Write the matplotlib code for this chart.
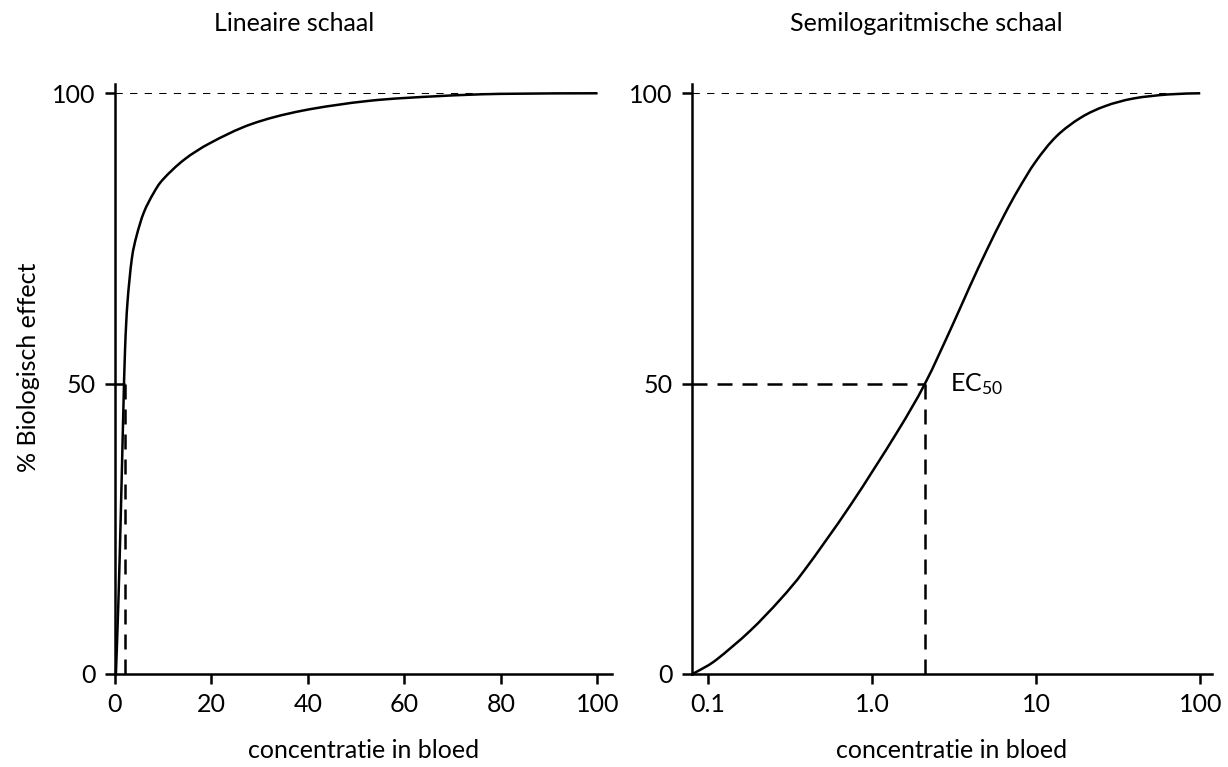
import numpy as np
import matplotlib.pyplot as plt
from matplotlib.path import Path
from matplotlib.patches import PathPatch

plt.rcParams['font.family'] = ['Lato', 'DejaVu Sans']
plt.rcParams['mathtext.default'] = 'regular'

FS = 18

# curve (concentration, % effect)
conc_lin = [0.2, 0.7, 1.2, 1.7, 2.1, 2.6, 3.5, 4.5, 6.0, 8.0, 10, 14.4,
            19.9, 28.3, 38.8, 52.7, 66.8, 80, 100]
effect_lin = [0, 12, 27, 44, 56, 64, 71.5, 75.5, 79.5, 82.8, 85.2, 88.6,
              91.5, 94.7, 97, 98.7, 99.5, 99.9, 100]

# curve
conc_log = [0.080, 0.0894, 0.113, 0.180, 0.275, 0.390, 0.735, 1.41, 2.1,
            3.07, 3.92, 5.0, 6.38, 7.77, 9.91, 13.3, 18.7, 26.4, 39.1, 63.7, 100]
effect_log = [0, 0.7, 2.5, 7.4, 12.8, 18.0, 29.0, 41.5, 50,
              59.9, 66.6, 73.0, 79.0, 83.4, 88.2, 92.6, 95.8, 97.8, 99.1, 99.8, 100]

ec50 = 2.1
max_effect = 100

lin_ticks = [0, 20, 40, 60, 80, 100]
log_ticks = [0.1, 1, 10, 100]
log_labels = ['0.1', '1.0', '10', '100']
y_ticks = [0, 50, 100]


def smooth_curve(xs, ys, logx=False):
    # Catmull-Rom through the read points, drawn as bezier segments
    u = np.log10(xs) if logx else np.asarray(xs, float)
    v = np.asarray(ys, float)
    up = np.concatenate([[u[0]], u, [u[-1]]])
    vp = np.concatenate([[v[0]], v, [v[-1]]])
    verts = [(u[0], v[0])]
    codes = [Path.MOVETO]
    for i in range(len(u) - 1):
        c1 = (up[i + 1] + (up[i + 2] - up[i]) / 6, vp[i + 1] + (vp[i + 2] - vp[i]) / 6)
        c2 = (up[i + 2] - (up[i + 3] - up[i + 1]) / 6, vp[i + 2] - (vp[i + 3] - vp[i + 1]) / 6)
        verts += [c1, c2, (u[i + 1], v[i + 1])]
        codes += [Path.CURVE4] * 3
    verts = np.array(verts)
    if logx:
        verts[:, 0] = 10 ** verts[:, 0]
    return Path(verts, codes)


fig = plt.figure(figsize=(12.28, 7.67), dpi=100)
ax1 = fig.add_axes([0.0936, 0.1213, 0.4047, 0.7692])
ax2 = fig.add_axes([0.5635, 0.1213, 0.4235, 0.7692])

for ax in (ax1, ax2):
    ax.spines['top'].set_visible(False)
    ax.spines['right'].set_visible(False)
    ax.spines['left'].set_linewidth(1.8)
    ax.spines['bottom'].set_linewidth(1.8)
    ax.tick_params(direction='out', length=7, width=1.8, pad=7, labelsize=FS)
    ax.set_ylim(0, 101.6)
    ax.set_yticks(y_ticks)
    ax.set_xlabel('concentratie in bloed', fontsize=FS, labelpad=16)

# linear panel
ax1.set_xlim(0, 103)
ax1.set_xticks(lin_ticks)
ax1.add_patch(PathPatch(smooth_curve(conc_lin, effect_lin), fill=False,
                        ec='black', lw=1.8, clip_on=False))
ax1.plot([0, 100], [max_effect, max_effect], color='black', lw=0.75, dashes=(7, 7))
ax1.plot([0, ec50], [50, 50], color='black', lw=1.8, dashes=(6, 4))
ax1.plot([ec50, ec50], [0, 50], color='black', lw=1.8, dashes=(6, 4))
ax1.set_ylabel('% Biologisch effect', fontsize=FS)
ax1.yaxis.set_label_coords(-0.151, 0.52)
ax1.set_title('Lineaire schaal', fontsize=FS, pad=38, x=0.36)

# semilog panel
ax2.set_xscale('log')
ax2.set_xlim(0.0798, 118)
ax2.set_xticks(log_ticks)
ax2.set_xticklabels(log_labels)
ax2.minorticks_off()
ax2.add_patch(PathPatch(smooth_curve(conc_log, effect_log, logx=True), fill=False,
                        ec='black', lw=1.8, clip_on=False))
ax2.plot([0.0798, 100], [max_effect, max_effect], color='black', lw=0.75, dashes=(7, 7))
ax2.plot([0.0798, ec50], [50, 50], color='black', lw=1.8, dashes=(6, 4))
ax2.plot([ec50, ec50], [0, 50], color='black', lw=1.8, dashes=(6, 4))
ax2.annotate('EC$_{50}$', xy=(ec50, 50), xytext=(18, 0), textcoords='offset points',
             va='center', ha='left', fontsize=FS)
ax2.set_title('Semilogaritmische schaal', fontsize=FS, pad=38, x=0.45)

fig.savefig('out.png', dpi=100)
